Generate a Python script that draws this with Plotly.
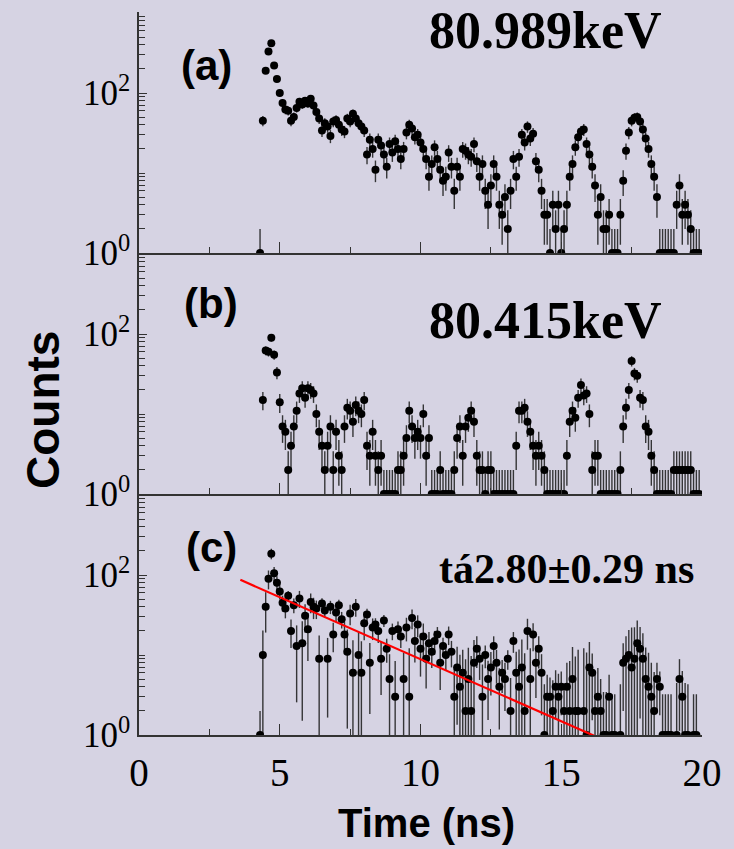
import numpy as np
import plotly.graph_objects as go

# ---------------------------------------------------------------------------
# Time spectra: 0.1 ns bins starting at 4.3 ns (157 bins, up to 19.9 ns)
# ---------------------------------------------------------------------------
BIN_START, BIN_WIDTH, N_BINS = 4.3, 0.1, 157
time_ns = np.round(BIN_START + BIN_WIDTH * np.arange(N_BINS), 2)

# gate on the 80.989 keV line
counts_80989 = [
    1, 45, 190, 330, 420, 220, 150, 100, 75, 62,
    60, 45, 50, 65, 78, 72, 80, 74, 85, 70,
    58, 48, 34, 42, 38, 29, 44, 46, 40, 35,
    33, 48, 44, 55, 48, 42, 38, 34, 17, 26,
    20, 11, 26, 22, 17, 12, 23, 18, 25, 20,
    15, 20, 32, 40, 36, 28, 30, 24, 20, 15,
    9, 13, 21, 15, 11, 8, 9, 18, 12, 6,
    12, 9, 20, 19, 17, 16, 23, 14, 9, 13,
    6, 4, 7, 13, 9, 4, 3, 5, 2, 6,
    15, 9, 16, 30, 24, 38, 27, 31, 14, 11,
    6, 3, 3, 1, 4, 2, 4, 1, 2, 4,
    9, 13, 21, 28, 33, 35, 23, 17, 12, 7,
    3, 5, 2, 2, 3, 1, 1, 1, 3, 8,
    19, 32, 45, 49, 50, 44, 35, 27, 20, 13,
    9, 5, 1, 1, 1, 1, 1, 1, 4, 7,
    3, 4, 3, 2, 1, 1, 1,
]

# gate on the 80.415 keV line (background window)
counts_80415 = [
    None, 15, 62, 60, 90, 55, 33, 14, 7, 6,
    2, 4, 7, 11, 18, 21, 16, 21, 20, 18,
    10, 6, 4, 2, 4, 7, 2, 6, 3, 2,
    7, 12, 11, 8, 13, 11, 10, 15, 4, 3,
    6, 3, 2, 3, 1, 1, 1, 1, 1, 2,
    2, 3, 5, 11, 7, 5, 6, 5, 10, 3,
    5, 1, 1, 1, 2, 1, 1, 1, 1, 2,
    5, 7, 3, 7, 9, 11, 8, 3, 2, 2,
    1, 2, 2, 1, 1, 1, 1, 1, 1, 1,
    1, 4, 11, 11, 12, 8, 6, 4, 3, 4,
    3, 2, 1, 1, 1, 1, 1, 1, 1, 3,
    8, 11, 9, 16, 23, 17, 18, 10, 2, 3,
    3, 1, 1, 1, 1, 1, 1, 1, 2, 7,
    12, 20, 46, 32, 30, 16, 15, 7, 6, 3,
    2, 1, 1, 1, 1, 1, 1, 2, 2, 2,
    2, 2, 2, 2, 1, 1, 1,
]

# background-subtracted spectrum used for the lifetime fit
counts_net = [
    1, 10, 40, 90, 185, 105, 80, 62, 45, 38,
    55, 20, 42, 13, 51, 14, 31, 21, 46, 40,
    38, 9, 44, 36, 9, 40, 18, 34, 42, 28,
    18, 11, 33, 6, 40, 10, 6, 25, 32, 8,
    22, 24, 20, 9, 27, 12, 5, 20, 3, 21,
    17, 5, 22, 3, 29, 15, 24, 12, 17, 9,
    14, 11, 15, 18, 8, 13, 10, 18, 11, 3,
    7, 4, 6, 2, 5, 2, 8, 12, 9, 3,
    10, 5, 7, 13, 8, 4, 6, 5, 9, 2,
    15, 6, 4, 7, 2, 20, 5, 18, 8, 12,
    6, 1, 3, 3, 2, 4, 3, 4, 2, 4,
    2, 5, 2, 2, None, 2, 1, 7, 6, 2,
    3, 2, 1, 1, 3, 1, 1, None, 1, 8,
    9, 10, 7, 9, 14, 12, 9, 5, 4, 3,
    2, 5, 4, 1, 1, 1, 1, None, 1, 5,
    3, 1, 1, None, 1, 1, None,
]

# exponential lifetime fit: N(t) = A * exp(-t / tau)
fit_tau_ns = 2.80
fit_tau_err_ns = 0.29
fit_amplitude = 315.0
fit_t_range = (3.6, 16.2)

panel_tags = ["(a)", "(b)", "(c)"]
energy_labels = ["80.989keV", "80.415keV"]
y_label_vals = [1, 100]
y_label_text = ["10<sup>0</sup>", "10<sup>2</sup>"]
y_minor_vals = [m * 10 ** d for d in range(3) for m in range(2, 11)]

# ---------------------------------------------------------------------------
a = np.array(counts_80989, dtype=float)
b = np.array(counts_80415, dtype=float)
c = np.array(counts_net, dtype=float)
err_a = np.sqrt(a)
err_b = np.sqrt(b)
# subtraction with a scaled background window inflates the uncertainty
err_c = np.sqrt(a + 4.0 * np.nan_to_num(b))

W, H = 734, 849
L, R, T, B = 139, 26, 12, 114
BG = "#D6D3E3"
AXIS_COL = "#333333"
SERIF = "Liberation Serif, Times New Roman, serif"
SANS = "Liberation Sans, Arial, sans-serif"


def paper(px, py):
    """Convert a pixel position on the page to paper coordinates."""
    return (px - L) / (W - L - R), (H - B - py) / (H - T - B)


fig = go.Figure()

panels = [(a, err_a, "x", "y"), (b, err_b, "x2", "y2"), (c, err_c, "x3", "y3")]
for vals, errs, xa, ya in panels:
    fig.add_trace(go.Scatter(
        x=time_ns, y=vals, xaxis=xa, yaxis=ya, mode="markers",
        marker=dict(color="black", size=8, line=dict(width=0)),
        error_y=dict(type="data", array=errs, visible=True, width=0,
                     thickness=1.4, color="rgba(35,35,35,0.9)"),
        showlegend=False, hoverinfo="x+y",
    ))

t_fit = np.linspace(fit_t_range[0], fit_t_range[1], 80)
fig.add_trace(go.Scatter(
    x=t_fit, y=fit_amplitude * np.exp(-t_fit / fit_tau_ns),
    xaxis="x3", yaxis="y3", mode="lines",
    line=dict(color="#FF0000", width=2.2), showlegend=False,
))

third = 1.0 / 3.0
domains = {"": [2 * third, 1.0], "2": [third, 2 * third], "3": [0.0, third]}
panel_px = 241
y_top = panel_px / 80.0  # 80 px per decade

layout_axes = {}
for suffix, dom in domains.items():
    bottom = suffix == "3"
    layout_axes["xaxis" + suffix] = dict(
        domain=[0, 1], anchor="y" + suffix, range=[0, 20],
        tickmode="linear", tick0=0, dtick=5,
        ticks="inside", ticklen=11, tickwidth=1.3, tickcolor=AXIS_COL,
        minor=dict(dtick=2.5, tick0=0, ticks="inside", ticklen=6,
                   tickwidth=1.3, tickcolor=AXIS_COL),
        showline=True, linecolor=AXIS_COL, linewidth=1.6,
        showgrid=False, zeroline=False, showticklabels=bottom,
        tickfont=dict(family=SERIF, size=39, color="black"),
        ticklabelstandoff=2,
    )
    layout_axes["yaxis" + suffix] = dict(
        domain=dom, anchor="x" + suffix, type="log", range=[0, y_top],
        tickmode="array", tickvals=y_label_vals, ticktext=y_label_text,
        ticks="inside", ticklen=8, tickwidth=1.3, tickcolor=AXIS_COL,
        minor=dict(tickvals=y_minor_vals, ticks="inside", ticklen=6,
                   tickwidth=1.1, tickcolor=AXIS_COL),
        showline=True, linecolor=AXIS_COL, linewidth=1.6,
        showgrid=False, zeroline=False,
        tickfont=dict(family=SERIF, size=35, color="black"),
    )

annotations = []


def add_text(text, px, py, font, angle=0):
    x, y = paper(px, py)
    annotations.append(dict(
        text=text, x=x, y=y, xref="paper", yref="paper",
        xanchor="center", yanchor="middle", showarrow=False,
        textangle=angle, font=font,
    ))


tag_font = dict(family=SANS, size=42, color="black", weight="bold")
add_text(panel_tags[0], 207, 66, tag_font)
add_text(panel_tags[1], 212, 303, tag_font)
add_text(panel_tags[2], 212, 547, tag_font)

energy_font = dict(family=SERIF, size=52, color="black", weight="bold")
add_text(energy_labels[0], 550, 30, energy_font)
add_text(energy_labels[1], 550, 320, energy_font)

add_text("tá%.2f±%.2f ns" % (fit_tau_ns, fit_tau_err_ns), 571, 569,
         dict(family=SERIF, size=42, color="black", weight="bold"))

add_text("Counts", 42, 410, dict(family=SANS, size=46, color="black",
                                 weight="bold"), angle=-90)
add_text("Time (ns)", 430, 823, dict(family=SANS, size=40, color="black",
                                     weight="bold"))

fig.update_layout(
    width=W, height=H,
    margin=dict(l=L, r=R, t=T, b=B),
    paper_bgcolor=BG, plot_bgcolor=BG,
    annotations=annotations,
    **layout_axes,
)

fig.write_html("out.html")
